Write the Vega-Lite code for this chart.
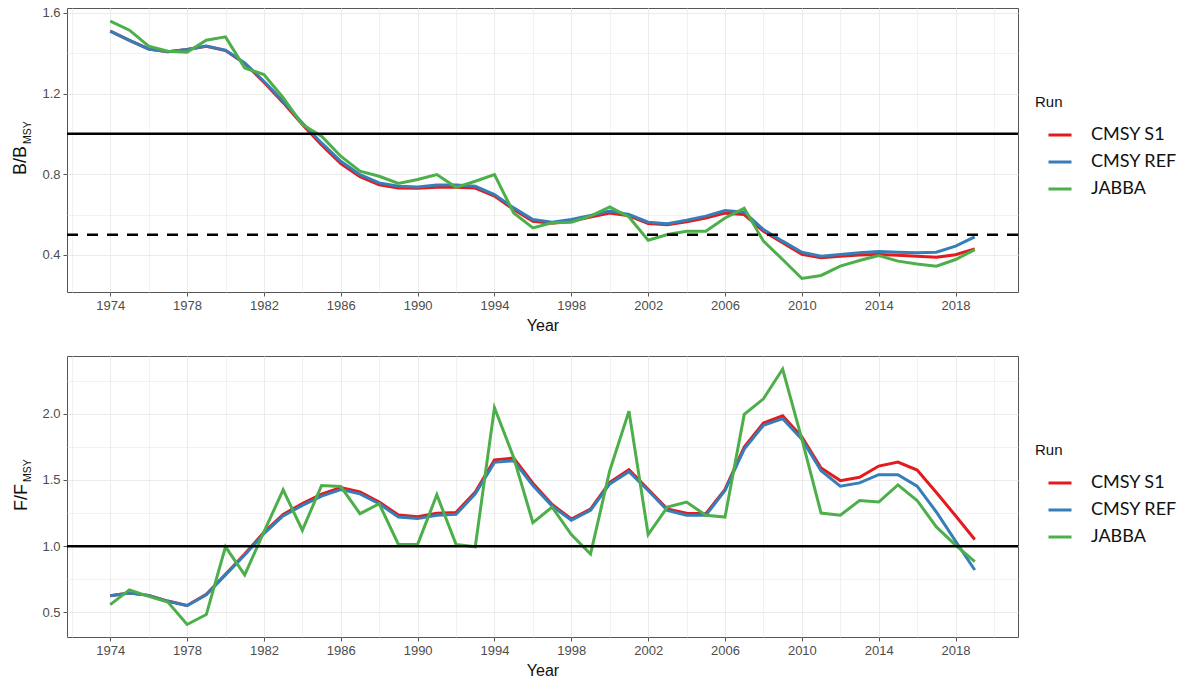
{
  "$schema": "https://vega.github.io/schema/vega-lite/v6.json",
  "background": "white",
  "padding": {"left": 10, "top": 6, "right": 5, "bottom": 5},
  "config": {
    "font": "Liberation Sans",
    "view": {"stroke": "#555555", "strokeWidth": 1},
    "axis": {"labelFont": "Liberation Sans", "labelFontSize": 13, "labelColor": "#4d4d4d", "titleFont": "Liberation Sans", "titleFontSize": 16, "titleFontWeight": "normal", "titleColor": "#111111", "gridColor": "#EBEBEB", "tickColor": "#555555", "tickSize": 4, "labelPadding": 3, "domain": false},
    "legend": {"titleFont": "Liberation Sans", "titleFontSize": 15, "titleFontWeight": "normal", "titleColor": "#111111", "labelFont": "Lato", "labelFontSize": 18, "labelColor": "#111111", "symbolType": "stroke", "symbolSize": 529, "symbolStrokeWidth": 3, "symbolOffset": 12, "labelOffset": 18, "rowPadding": 5, "titlePadding": 12}
  },
  "datasets": {
    "bb": [
      {"Year":1974,"CMSY S1":1.509,"CMSY REF":1.509,"JABBA":1.559},
      {"Year":1975,"CMSY S1":1.464,"CMSY REF":1.464,"JABBA":1.514},
      {"Year":1976,"CMSY S1":1.421,"CMSY REF":1.421,"JABBA":1.435},
      {"Year":1977,"CMSY S1":1.407,"CMSY REF":1.407,"JABBA":1.410},
      {"Year":1978,"CMSY S1":1.418,"CMSY REF":1.418,"JABBA":1.405},
      {"Year":1979,"CMSY S1":1.434,"CMSY REF":1.435,"JABBA":1.464},
      {"Year":1980,"CMSY S1":1.413,"CMSY REF":1.415,"JABBA":1.481},
      {"Year":1981,"CMSY S1":1.349,"CMSY REF":1.352,"JABBA":1.327},
      {"Year":1982,"CMSY S1":1.256,"CMSY REF":1.261,"JABBA":1.294},
      {"Year":1983,"CMSY S1":1.155,"CMSY REF":1.162,"JABBA":1.179},
      {"Year":1984,"CMSY S1":1.046,"CMSY REF":1.054,"JABBA":1.046},
      {"Year":1985,"CMSY S1":0.945,"CMSY REF":0.955,"JABBA":0.988},
      {"Year":1986,"CMSY S1":0.853,"CMSY REF":0.864,"JABBA":0.889},
      {"Year":1987,"CMSY S1":0.788,"CMSY REF":0.798,"JABBA":0.815},
      {"Year":1988,"CMSY S1":0.747,"CMSY REF":0.757,"JABBA":0.790},
      {"Year":1989,"CMSY S1":0.731,"CMSY REF":0.740,"JABBA":0.754},
      {"Year":1990,"CMSY S1":0.730,"CMSY REF":0.737,"JABBA":0.774},
      {"Year":1991,"CMSY S1":0.735,"CMSY REF":0.747,"JABBA":0.798},
      {"Year":1992,"CMSY S1":0.735,"CMSY REF":0.747,"JABBA":0.735},
      {"Year":1993,"CMSY S1":0.731,"CMSY REF":0.740,"JABBA":0.765},
      {"Year":1994,"CMSY S1":0.692,"CMSY REF":0.699,"JABBA":0.798},
      {"Year":1995,"CMSY S1":0.625,"CMSY REF":0.633,"JABBA":0.608},
      {"Year":1996,"CMSY S1":0.567,"CMSY REF":0.575,"JABBA":0.534},
      {"Year":1997,"CMSY S1":0.557,"CMSY REF":0.562,"JABBA":0.559},
      {"Year":1998,"CMSY S1":0.567,"CMSY REF":0.575,"JABBA":0.562},
      {"Year":1999,"CMSY S1":0.588,"CMSY REF":0.595,"JABBA":0.592},
      {"Year":2000,"CMSY S1":0.608,"CMSY REF":0.617,"JABBA":0.638},
      {"Year":2001,"CMSY S1":0.594,"CMSY REF":0.600,"JABBA":0.588},
      {"Year":2002,"CMSY S1":0.556,"CMSY REF":0.562,"JABBA":0.473},
      {"Year":2003,"CMSY S1":0.550,"CMSY REF":0.555,"JABBA":0.501},
      {"Year":2004,"CMSY S1":0.564,"CMSY REF":0.572,"JABBA":0.517},
      {"Year":2005,"CMSY S1":0.583,"CMSY REF":0.592,"JABBA":0.517},
      {"Year":2006,"CMSY S1":0.607,"CMSY REF":0.620,"JABBA":0.583},
      {"Year":2007,"CMSY S1":0.600,"CMSY REF":0.612,"JABBA":0.631},
      {"Year":2008,"CMSY S1":0.517,"CMSY REF":0.526,"JABBA":0.468},
      {"Year":2009,"CMSY S1":0.460,"CMSY REF":0.468,"JABBA":0.377},
      {"Year":2010,"CMSY S1":0.403,"CMSY REF":0.413,"JABBA":0.283},
      {"Year":2011,"CMSY S1":0.386,"CMSY REF":0.393,"JABBA":0.298},
      {"Year":2012,"CMSY S1":0.393,"CMSY REF":0.402,"JABBA":0.344},
      {"Year":2013,"CMSY S1":0.399,"CMSY REF":0.410,"JABBA":0.372},
      {"Year":2014,"CMSY S1":0.402,"CMSY REF":0.417,"JABBA":0.397},
      {"Year":2015,"CMSY S1":0.398,"CMSY REF":0.413,"JABBA":0.369},
      {"Year":2016,"CMSY S1":0.393,"CMSY REF":0.410,"JABBA":0.355},
      {"Year":2017,"CMSY S1":0.388,"CMSY REF":0.413,"JABBA":0.344},
      {"Year":2018,"CMSY S1":0.401,"CMSY REF":0.443,"JABBA":0.377},
      {"Year":2019,"CMSY S1":0.430,"CMSY REF":0.489,"JABBA":0.426}
    ],
    "ff": [
      {"Year":1974,"CMSY S1":0.625,"CMSY REF":0.625,"JABBA":0.558},
      {"Year":1975,"CMSY S1":0.645,"CMSY REF":0.645,"JABBA":0.670},
      {"Year":1976,"CMSY S1":0.628,"CMSY REF":0.628,"JABBA":0.620},
      {"Year":1977,"CMSY S1":0.585,"CMSY REF":0.583,"JABBA":0.578},
      {"Year":1978,"CMSY S1":0.552,"CMSY REF":0.550,"JABBA":0.408},
      {"Year":1979,"CMSY S1":0.636,"CMSY REF":0.633,"JABBA":0.483},
      {"Year":1980,"CMSY S1":0.788,"CMSY REF":0.783,"JABBA":0.995},
      {"Year":1981,"CMSY S1":0.940,"CMSY REF":0.933,"JABBA":0.783},
      {"Year":1982,"CMSY S1":1.104,"CMSY REF":1.095,"JABBA":1.108},
      {"Year":1983,"CMSY S1":1.240,"CMSY REF":1.228,"JABBA":1.425},
      {"Year":1984,"CMSY S1":1.322,"CMSY REF":1.308,"JABBA":1.120},
      {"Year":1985,"CMSY S1":1.393,"CMSY REF":1.378,"JABBA":1.458},
      {"Year":1986,"CMSY S1":1.443,"CMSY REF":1.428,"JABBA":1.450},
      {"Year":1987,"CMSY S1":1.410,"CMSY REF":1.395,"JABBA":1.245},
      {"Year":1988,"CMSY S1":1.334,"CMSY REF":1.320,"JABBA":1.320},
      {"Year":1989,"CMSY S1":1.235,"CMSY REF":1.220,"JABBA":1.013},
      {"Year":1990,"CMSY S1":1.222,"CMSY REF":1.208,"JABBA":1.013},
      {"Year":1991,"CMSY S1":1.248,"CMSY REF":1.233,"JABBA":1.388},
      {"Year":1992,"CMSY S1":1.255,"CMSY REF":1.240,"JABBA":1.013},
      {"Year":1993,"CMSY S1":1.408,"CMSY REF":1.395,"JABBA":0.995},
      {"Year":1994,"CMSY S1":1.652,"CMSY REF":1.633,"JABBA":2.045},
      {"Year":1995,"CMSY S1":1.665,"CMSY REF":1.645,"JABBA":1.670},
      {"Year":1996,"CMSY S1":1.475,"CMSY REF":1.458,"JABBA":1.178},
      {"Year":1997,"CMSY S1":1.315,"CMSY REF":1.303,"JABBA":1.295},
      {"Year":1998,"CMSY S1":1.205,"CMSY REF":1.195,"JABBA":1.088},
      {"Year":1999,"CMSY S1":1.280,"CMSY REF":1.270,"JABBA":0.940},
      {"Year":2000,"CMSY S1":1.482,"CMSY REF":1.470,"JABBA":1.570},
      {"Year":2001,"CMSY S1":1.577,"CMSY REF":1.563,"JABBA":2.020},
      {"Year":2002,"CMSY S1":1.430,"CMSY REF":1.420,"JABBA":1.088},
      {"Year":2003,"CMSY S1":1.280,"CMSY REF":1.270,"JABBA":1.295},
      {"Year":2004,"CMSY S1":1.248,"CMSY REF":1.233,"JABBA":1.333},
      {"Year":2005,"CMSY S1":1.245,"CMSY REF":1.233,"JABBA":1.233},
      {"Year":2006,"CMSY S1":1.428,"CMSY REF":1.420,"JABBA":1.220},
      {"Year":2007,"CMSY S1":1.748,"CMSY REF":1.733,"JABBA":1.995},
      {"Year":2008,"CMSY S1":1.930,"CMSY REF":1.913,"JABBA":2.113},
      {"Year":2009,"CMSY S1":1.985,"CMSY REF":1.963,"JABBA":2.338},
      {"Year":2010,"CMSY S1":1.825,"CMSY REF":1.808,"JABBA":1.808},
      {"Year":2011,"CMSY S1":1.590,"CMSY REF":1.570,"JABBA":1.250},
      {"Year":2012,"CMSY S1":1.495,"CMSY REF":1.453,"JABBA":1.233},
      {"Year":2013,"CMSY S1":1.520,"CMSY REF":1.478,"JABBA":1.345},
      {"Year":2014,"CMSY S1":1.605,"CMSY REF":1.540,"JABBA":1.333},
      {"Year":2015,"CMSY S1":1.635,"CMSY REF":1.540,"JABBA":1.463},
      {"Year":2016,"CMSY S1":1.575,"CMSY REF":1.453,"JABBA":1.345},
      {"Year":2017,"CMSY S1":1.405,"CMSY REF":1.258,"JABBA":1.145},
      {"Year":2018,"CMSY S1":1.230,"CMSY REF":1.038,"JABBA":1.008},
      {"Year":2019,"CMSY S1":1.050,"CMSY REF":0.820,"JABBA":0.883}
    ]
  },
  "spacing": 21,
  "resolve": {"scale": {"color": "independent"}, "legend": {"color": "independent"}},
  "vconcat": [
    {
      "width": 951,
      "height": 284,
      "resolve": {"axis": {"y": "independent"}},
      "layer": [
        {
          "data": {"name": "bb"},
          "transform": [{"fold": ["CMSY S1", "CMSY REF", "JABBA"], "as": ["Run", "v"]}],
          "mark": {"type": "line", "strokeWidth": 3},
          "encoding": {
            "x": {"field": "Year", "type": "quantitative",
              "scale": {"domain": [1971.75, 2021.25], "nice": false, "zero": false},
              "axis": {"title": "Year", "titlePadding": 5, "format": "d",
                "values": [1972,1974,1976,1978,1980,1982,1984,1986,1988,1990,1992,1994,1996,1998,2000,2002,2004,2006,2008,2010,2012,2014,2016,2018,2020],
                "labelExpr": "datum.value % 4 === 2 ? datum.label : ''",
                "tickOpacity": {"condition": {"test": "datum.value % 4 === 2", "value": 1}, "value": 0},
                "gridWidth": {"condition": {"test": "datum.value % 4 === 2", "value": 1}, "value": 0.7}}},
            "y": {"field": "v", "type": "quantitative",
              "scale": {"domain": [0.216, 1.624], "nice": false, "zero": false},
              "axis": {"title": "B/B", "titleFontSize": 18, "titleX": -42, "titleY": 152, "titleAngle": -90, "titleBaseline": "alphabetic", "titleAlign": "center",
                "values": [0.4, 0.6, 0.8, 1.0, 1.2, 1.4, 1.6],
                "labelExpr": "indexof([0.4, 0.8, 1.2, 1.6], datum.value) >= 0 ? format(datum.value, '.1f') : ''",
                "tickOpacity": {"condition": {"test": "indexof([0.4, 0.8, 1.2, 1.6], datum.value) >= 0", "value": 1}, "value": 0},
                "gridWidth": {"condition": {"test": "indexof([0.4, 0.8, 1.2, 1.6], datum.value) >= 0", "value": 1}, "value": 0.7}}},
            "color": {"field": "Run", "type": "nominal",
              "scale": {"domain": ["CMSY S1", "CMSY REF", "JABBA"], "range": ["#E41A1C", "#377EB8", "#4DAF4A"]},
              "legend": {"title": "Run", "orient": "none", "legendX": 968, "legendY": 87}}
          }
        },
        {
          "data": {"values": [{"r": 1}]},
          "mark": {"type": "rule", "strokeWidth": 2.5, "color": "black"},
          "encoding": {"y": {"field": "r", "type": "quantitative",
            "axis": {"orient": "left", "title": "MSY", "titleFontSize": 10.5, "titleX": -37, "titleY": 124, "titleAngle": -90, "titleBaseline": "alphabetic", "titleAlign": "center", "labels": false, "ticks": false, "grid": false, "domain": false}}}
        },
        {
          "data": {"values": [{"r": 0.5}]},
          "mark": {"type": "rule", "strokeWidth": 2.5, "color": "black", "strokeDash": [11, 9]},
          "encoding": {"y": {"field": "r", "type": "quantitative", "axis": null}}
        }
      ]
    },
    {
      "width": 951,
      "height": 281,
      "resolve": {"axis": {"y": "independent"}},
      "layer": [
        {
          "data": {"name": "ff"},
          "transform": [{"fold": ["CMSY S1", "CMSY REF", "JABBA"], "as": ["Run", "v"]}],
          "mark": {"type": "line", "strokeWidth": 3},
          "encoding": {
            "x": {"field": "Year", "type": "quantitative",
              "scale": {"domain": [1971.75, 2021.25], "nice": false, "zero": false},
              "axis": {"title": "Year", "titlePadding": 5, "format": "d",
                "values": [1972,1974,1976,1978,1980,1982,1984,1986,1988,1990,1992,1994,1996,1998,2000,2002,2004,2006,2008,2010,2012,2014,2016,2018,2020],
                "labelExpr": "datum.value % 4 === 2 ? datum.label : ''",
                "tickOpacity": {"condition": {"test": "datum.value % 4 === 2", "value": 1}, "value": 0},
                "gridWidth": {"condition": {"test": "datum.value % 4 === 2", "value": 1}, "value": 0.7}}},
            "y": {"field": "v", "type": "quantitative",
              "scale": {"domain": [0.3135, 2.4365], "nice": false, "zero": false},
              "axis": {"title": "F/F", "titleFontSize": 18, "titleX": -41, "titleY": 141, "titleAngle": -90, "titleBaseline": "alphabetic", "titleAlign": "center",
                "values": [0.5, 0.75, 1.0, 1.25, 1.5, 1.75, 2.0, 2.25],
                "labelExpr": "indexof([0.5, 1, 1.5, 2], datum.value) >= 0 ? format(datum.value, '.1f') : ''",
                "tickOpacity": {"condition": {"test": "indexof([0.5, 1, 1.5, 2], datum.value) >= 0", "value": 1}, "value": 0},
                "gridWidth": {"condition": {"test": "indexof([0.5, 1, 1.5, 2], datum.value) >= 0", "value": 1}, "value": 0.7}}},
            "color": {"field": "Run", "type": "nominal",
              "scale": {"domain": ["CMSY S1", "CMSY REF", "JABBA"], "range": ["#E41A1C", "#377EB8", "#4DAF4A"]},
              "legend": {"title": "Run", "orient": "none", "legendX": 968, "legendY": 87}}
          }
        },
        {
          "data": {"values": [{"r": 1}]},
          "mark": {"type": "rule", "strokeWidth": 2.5, "color": "black"},
          "encoding": {"y": {"field": "r", "type": "quantitative",
            "axis": {"orient": "left", "title": "MSY", "titleFontSize": 10.5, "titleX": -37, "titleY": 114, "titleAngle": -90, "titleBaseline": "alphabetic", "titleAlign": "center", "labels": false, "ticks": false, "grid": false, "domain": false}}}
        }
      ]
    }
  ]
}
